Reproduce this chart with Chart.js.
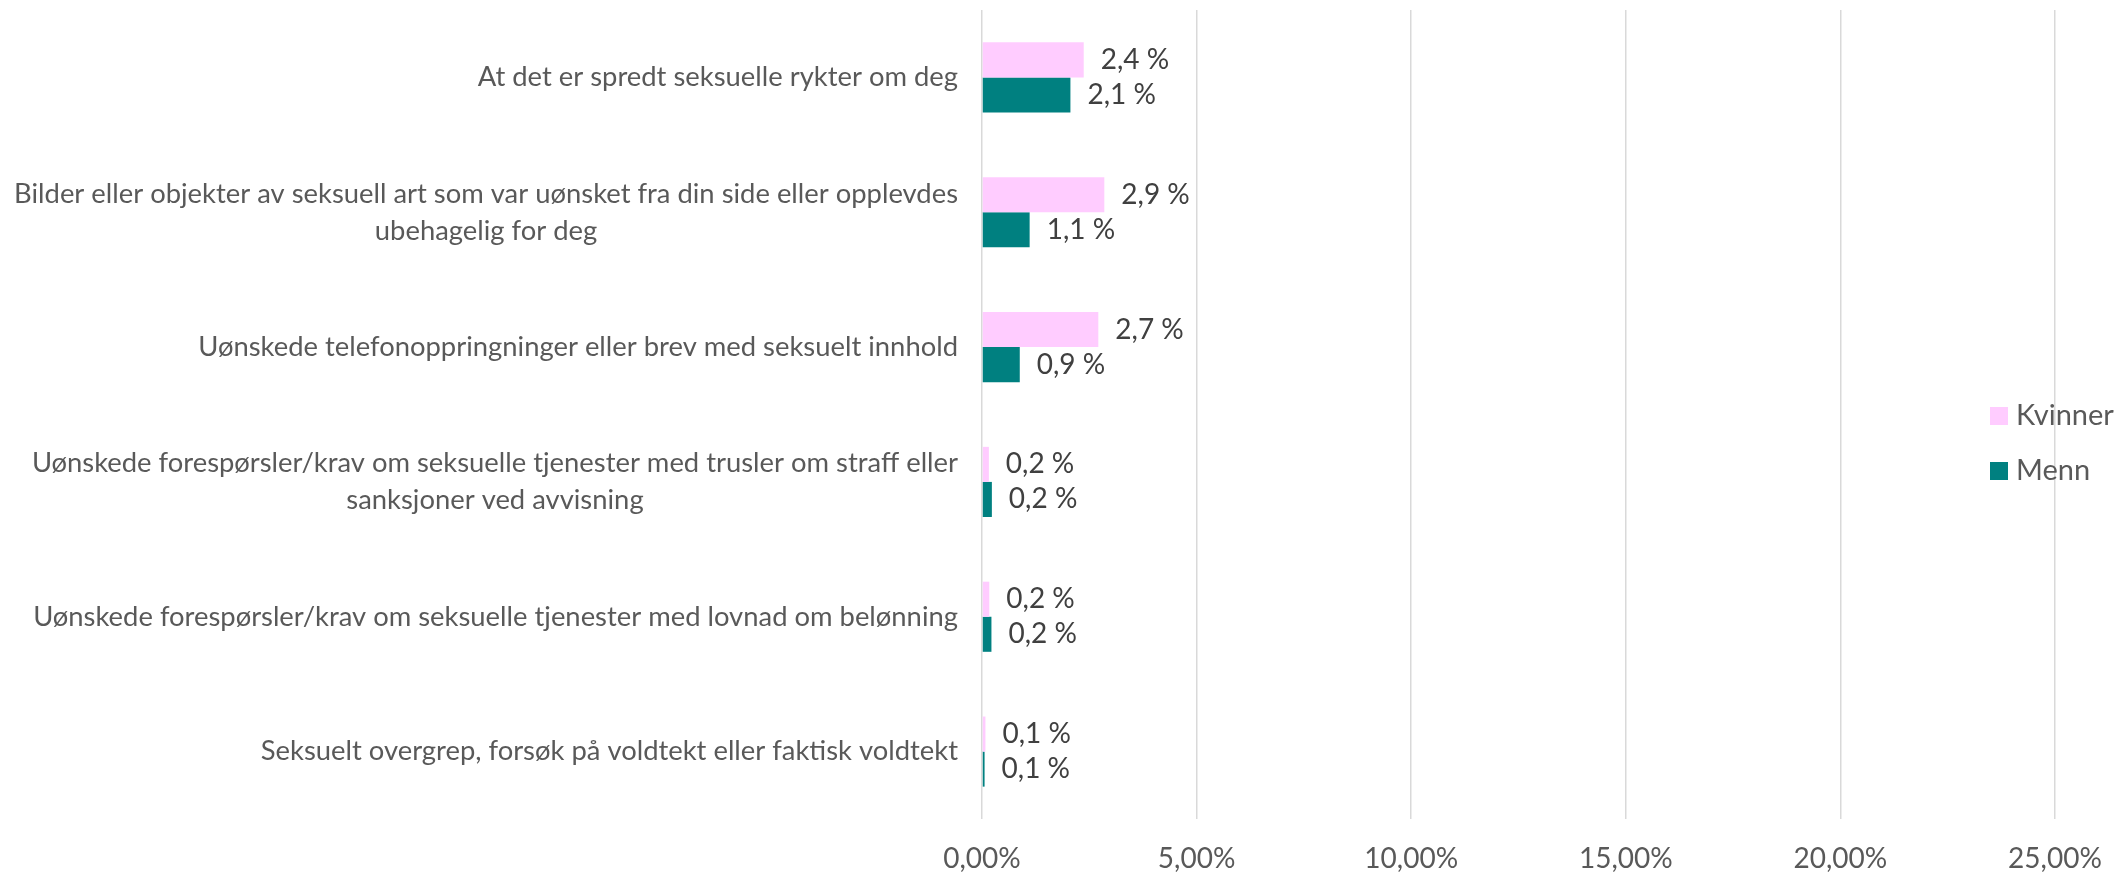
<!DOCTYPE html>
<html>
<head>
<meta charset="utf-8">
<script src="https://cdn.jsdelivr.net/npm/chart.js@4.4.1/dist/chart.umd.min.js"></script>
<style>
  html, body { margin: 0; padding: 0; background: #ffffff; }
  canvas { display: block; }
</style>
</head>
<body>
<canvas id="chart" width="2118" height="873"></canvas>
<script>
// Categories (multi-line labels are arrays)
const categories = [
    "At det er spredt seksuelle rykter om deg",
    ["Bilder eller objekter av seksuell art som var uønsket fra din side eller opplevdes", "ubehagelig for deg"],
    "Uønskede telefonoppringninger eller brev med seksuelt innhold",
    ["Uønskede forespørsler/krav om seksuelle tjenester med trusler om straff eller", "sanksjoner ved avvisning"],
    "Uønskede forespørsler/krav om seksuelle tjenester med lovnad om belønning",
    "Seksuelt overgrep, forsøk på voldtekt eller faktisk voldtekt"
];

// Series values in percent
const kvinner = [2.37, 2.85, 2.71, 0.16, 0.17, 0.08];
const menn = [2.06, 1.11, 0.88, 0.23, 0.22, 0.06];

// X axis ticks
const xTicks = [0, 5, 10, 15, 20, 25];

const FONT = "Lato";
const pink = "#FFCCFF";
const teal = "#008080";

function pct(v, digits) {
    return v.toFixed(digits).replace(".", ",");
}

// Category labels: block right-aligned to the axis, lines centred inside the block
const categoryLabels = {
    id: "categoryLabels",
    afterDraw(chart) {
        const ctx = chart.ctx;
        const y = chart.scales.y;
        const right = chart.chartArea.left - 24;
        const lineH = 37;
        ctx.save();
        ctx.font = `27.4px ${FONT}`;
        ctx.fillStyle = "#595959";
        ctx.textBaseline = "middle";
        ctx.textAlign = "center";
        chart.data.labels.forEach((label, i) => {
            const lines = Array.isArray(label) ? label : [label];
            const maxW = Math.max(...lines.map((l) => ctx.measureText(l).width));
            const cx = right - maxW / 2;
            const cy = y.getPixelForTick(i);
            lines.forEach((line, j) => {
                ctx.fillText(line, cx, cy + (j - (lines.length - 1) / 2) * lineH);
            });
        });
        ctx.restore();
    }
};

// Value labels to the right of each bar
const valueLabels = {
    id: "valueLabels",
    afterDatasetsDraw(chart) {
        const ctx = chart.ctx;
        ctx.save();
        ctx.font = `28px ${FONT}`;
        ctx.fillStyle = "#404040";
        ctx.textBaseline = "middle";
        ctx.textAlign = "left";
        chart.data.datasets.forEach((ds, di) => {
            chart.getDatasetMeta(di).data.forEach((bar, i) => {
                ctx.fillText(pct(ds.data[i], 1) + " %", bar.x + 17, bar.y);
            });
        });
        ctx.restore();
    }
};

// Legend on the right, over the plot
const sideLegend = {
    id: "sideLegend",
    afterDraw(chart) {
        const ctx = chart.ctx;
        ctx.save();
        ctx.font = `29px ${FONT}`;
        ctx.textBaseline = "middle";
        ctx.textAlign = "left";
        chart.data.datasets.forEach((ds, i) => {
            const cy = 416 + i * 55;
            ctx.fillStyle = ds.backgroundColor;
            ctx.fillRect(1990, cy - 9, 18, 18);
            ctx.fillStyle = "#595959";
            ctx.fillText(ds.label, 2016, cy);
        });
        ctx.restore();
    }
};

const ctx = document.getElementById("chart").getContext("2d");
new Chart(ctx, {
    type: "bar",
    data: {
        labels: categories,
        datasets: [
            { label: "Kvinner", data: kvinner, backgroundColor: pink },
            { label: "Menn", data: menn, backgroundColor: teal }
        ]
    },
    options: {
        indexAxis: "y",
        responsive: false,
        animation: false,
        datasets: {
            bar: { barPercentage: 1, categoryPercentage: 0.52 }
        },
        layout: { padding: { top: 10, right: 63, bottom: 0, left: 0 } },
        plugins: {
            legend: { display: false },
            tooltip: { enabled: false }
        },
        scales: {
            x: {
                min: 0,
                max: 25,
                afterBuildTicks: (scale) => {
                    scale.ticks = xTicks.map((v) => ({ value: v }));
                },
                afterFit: (scale) => {
                    scale.height = 54;
                    scale.paddingLeft = 0;
                    scale.paddingRight = 0;
                },
                grid: { color: "#d9d9d9", lineWidth: 1.5, drawTicks: false },
                border: { display: false },
                ticks: {
                    padding: 23,
                    color: "#595959",
                    font: { family: FONT, size: 28 },
                    callback: (v) => pct(v, 2) + "%"
                }
            },
            y: {
                afterFit: (scale) => { scale.width = 982; },
                grid: { display: false },
                border: { display: false },
                ticks: { display: false }
            }
        }
    },
    plugins: [categoryLabels, valueLabels, sideLegend]
});
</script>
</body>
</html>
